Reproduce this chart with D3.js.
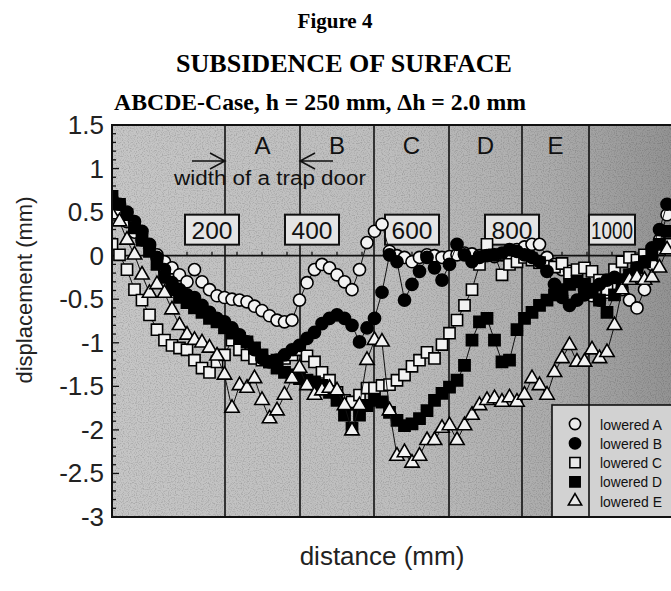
<!DOCTYPE html>
<html>
<head>
<meta charset="utf-8">
<script src="https://cdn.jsdelivr.net/npm/d3@7"></script>
<style>
  body { margin: 0; background: #fff; }
  svg { display: block; }
</style>
</head>
<body>
<div id="chart"></div>
<script>
// ---- data (distance in mm, displacement in mm) ----
const distance = [0, 15, 30, 45, 60, 75, 90, 105, 120, 135, 150, 165, 180, 195, 210, 225, 240, 255, 270, 285,
  300, 315, 330, 345, 360, 375, 390, 405, 420, 435, 450, 465, 480, 495, 510, 525, 540, 555, 570, 585,
  600, 615, 630, 645, 660, 675, 690, 705, 720, 735, 750, 765, 780, 795, 810, 825, 840, 855, 870, 885,
  900, 915, 930, 945, 960, 975, 990, 1005, 1020, 1035, 1050, 1065, 1080, 1095, 1110];

const loweredA = [0.65, 0.53, 0.39, 0.27, 0.18, 0.12, 0.01, -0.07, -0.14, -0.22,
  -0.30, -0.16, -0.30, -0.39, -0.46, -0.48, -0.50, -0.51, -0.53, -0.58,
  -0.63, -0.69, -0.74, -0.76, -0.74, -0.51, -0.31, -0.16, -0.10, -0.14,
  -0.22, -0.30, -0.39, -0.16, 0.15, 0.28, 0.36, 0.05, 0.00, -0.02,
  -0.07, -0.02, 0.01, 0.00, -0.02, -0.01, 0.01, 0.03, 0.02, 0.00,
  0.01, -0.01, 0.01, 0.03, 0.07, 0.10, 0.13, 0.13, -0.02, -0.10,
  -0.16, -0.18, -0.28, -0.39, -0.46, -0.51, -0.42, -0.37, -0.39, -0.51,
  -0.60, -0.39, -0.10, 0.18, 0.47];

const loweredB = [0.65, 0.59, 0.50, 0.39, 0.28, 0.13, -0.02, -0.16, -0.31, -0.39,
  -0.45, -0.48, -0.57, -0.65, -0.72, -0.76, -0.83, -0.91, -0.99, -1.08,
  -1.18, -1.22, -1.20, -1.14, -1.08, -1.03, -0.95, -0.88, -0.78, -0.72,
  -0.68, -0.72, -0.80, -0.99, -0.83, -0.72, -0.42, 0.01, -0.07, -0.51,
  -0.33, -0.18, -0.02, -0.14, -0.28, -0.10, 0.13, 0.01, -0.07, -0.02,
  0.00, 0.01, 0.03, 0.07, 0.05, 0.01, -0.02, -0.07, -0.18, -0.33,
  -0.48, -0.57, -0.51, -0.45, -0.39, -0.33, -0.28, -0.25, -0.28, -0.22,
  -0.14, -0.07, 0.09, 0.30, 0.59];

const loweredC = [0.13, 0.01, -0.16, -0.39, -0.51, -0.68, -0.85, -0.97, -1.03, -1.06,
  -1.08, -1.20, -1.29, -1.34, -1.22, -1.14, -0.97, -1.08, -1.14, -1.18,
  -1.20, -1.22, -1.20, -1.18, -1.14, -1.08, -1.15, -1.22, -1.34, -1.43,
  -1.57, -1.66, -1.68, -1.60, -1.52, -1.52, -1.49, -1.48, -1.43, -1.37,
  -1.27, -1.20, -1.11, -1.18, -1.02, -0.89, -0.74, -0.57, -0.39, -0.10,
  0.13, 0.01, -0.22, -0.10, -0.07, -0.02, -0.05, -0.08, -0.12, -0.13,
  -0.09, -0.20, -0.16, -0.14, -0.18, -0.28, -0.39, -0.16, -0.07, -0.02,
  -0.05, 0.01, 0.05, 0.07, 0.13];

const loweredD = [0.68, 0.59, 0.47, 0.32, 0.18, 0.05, -0.10, -0.25, -0.39, -0.48,
  -0.54, -0.60, -0.65, -0.72, -0.76, -0.83, -0.89, -0.95, -0.99, -1.06,
  -1.14, -1.22, -1.29, -1.34, -1.37, -1.41, -1.43, -1.45, -1.49, -1.57,
  -1.66, -1.83, -1.98, -1.83, -1.72, -1.66, -1.68, -1.80, -1.89, -1.95,
  -1.93, -1.87, -1.78, -1.66, -1.58, -1.51, -1.43, -1.26, -0.97, -0.76,
  -0.72, -0.97, -1.22, -1.20, -0.85, -0.72, -0.65, -0.57, -0.51, -0.45,
  -0.39, -0.33, -0.30, -0.33, -0.42, -0.51, -0.65, -0.45, -0.30, -0.22,
  -0.14, -0.07, 0.01, 0.13, 0.28];

const loweredE = [0.47, 0.39, 0.18, 0.01, -0.22, -0.43, -0.33, -0.43, -0.62, -0.80,
  -0.91, -0.97, -1.00, -1.06, -1.15, -1.37, -1.75, -1.49, -1.52, -1.41,
  -1.66, -1.87, -1.78, -1.60, -1.41, -1.29, -1.49, -1.60, -1.55, -1.52,
  -1.55, -1.72, -2.01, -1.72, -1.20, -0.97, -0.99, -1.78, -2.30, -2.26,
  -2.38, -2.30, -2.12, -2.12, -1.98, -1.95, -2.12, -1.95, -1.83, -1.72,
  -1.66, -1.64, -1.68, -1.63, -1.68, -1.60, -1.41, -1.49, -1.60, -1.34,
  -1.18, -1.03, -1.22, -1.22, -1.08, -1.18, -1.11, -0.80, -0.39, -0.28,
  -0.25, -0.28, -0.25, -0.14, 0.07];

const seriesNames = ['lowered A', 'lowered B', 'lowered C', 'lowered D', 'lowered E'];
const trapEdges = [226, 376, 524, 674, 820, 954];   // trap door borders (mm)
const trapNames = ['A', 'B', 'C', 'D', 'E'];
const xTickLabels = [200, 400, 600, 800, 1000];
const yTickLabels = [1.5, 1, 0.5, 0, -0.5, -1, -1.5, -2, -2.5, -3];

// ---- layout ----
const W = 671, H = 591;
const svg = d3.select('#chart').append('svg').attr('width', W).attr('height', H);

const x = d3.scaleLinear().domain([0, 1120]).range([112, 672]);
const y = d3.scaleLinear().domain([-3, 1.5]).range([517, 125]);

const defs = svg.append('defs');
const grad = defs.append('linearGradient').attr('id', 'bg').attr('x1', 0).attr('x2', 1).attr('y1', 0).attr('y2', 0);
[[0, '#c6c6c6'], [0.5, '#bebebe'], [0.78, '#acacac'], [1, '#939393']].forEach(([o, c]) =>
  grad.append('stop').attr('offset', o).attr('stop-color', c));

const noise = defs.append('filter').attr('id', 'grain').attr('x', 0).attr('y', 0).attr('width', 1).attr('height', 1);
noise.append('feTurbulence').attr('type', 'fractalNoise').attr('baseFrequency', 0.85).attr('numOctaves', 1).attr('seed', 3);
noise.append('feColorMatrix').attr('type', 'matrix')
  .attr('values', '0 0 0 0 0  0 0 0 0 0  0 0 0 0 0  0 0 0 -1.4 0.75');
noise.append('feComposite').attr('in2', 'SourceGraphic').attr('operator', 'in');

defs.append('clipPath').attr('id', 'plotClip').append('rect')
  .attr('x', x(0)).attr('y', y(1.5)).attr('width', x(1120) - x(0)).attr('height', y(-3) - y(1.5));

// ---- titles ----
const serif = "'Liberation Serif', 'Times New Roman', serif";
const sans = "'Liberation Sans', Arial, sans-serif";
svg.append('text').attr('x', 335).attr('y', 28).attr('text-anchor', 'middle')
  .attr('font-family', serif).attr('font-weight', 'bold').attr('font-size', 21).text('Figure 4');
svg.append('text').attr('x', 344).attr('y', 72).attr('text-anchor', 'middle')
  .attr('font-family', serif).attr('font-weight', 'bold').attr('font-size', 25)
  .attr('textLength', 336).attr('lengthAdjust', 'spacingAndGlyphs').text('SUBSIDENCE OF SURFACE');
svg.append('text').attr('x', 320).attr('y', 110).attr('text-anchor', 'middle')
  .attr('font-family', serif).attr('font-weight', 'bold').attr('font-size', 23)
  .attr('textLength', 412).attr('lengthAdjust', 'spacingAndGlyphs')
  .text('ABCDE-Case, h = 250 mm, \u0394h = 2.0 mm');

// ---- plot background ----
const plot = svg.append('g');
plot.append('rect').attr('x', x(0)).attr('y', y(1.5)).attr('width', x(1120) - x(0)).attr('height', y(-3) - y(1.5))
  .attr('fill', 'url(#bg)');
plot.append('rect').attr('x', x(0)).attr('y', y(1.5)).attr('width', x(1120) - x(0)).attr('height', y(-3) - y(1.5))
  .attr('fill', '#000').attr('filter', 'url(#grain)').attr('opacity', 0.35);

// trap door borders
plot.selectAll('.trap').data(trapEdges).enter().append('line')
  .attr('x1', d => x(d)).attr('x2', d => x(d)).attr('y1', y(1.5)).attr('y2', y(-3))
  .attr('stroke', '#111').attr('stroke-width', 1.6);

// zero line + its small ticks
plot.append('line').attr('x1', x(0)).attr('x2', x(1120)).attr('y1', y(0)).attr('y2', y(0))
  .attr('stroke', '#111').attr('stroke-width', 1.6);
plot.selectAll('.xt').data(d3.range(50, 1120, 50)).enter().append('line')
  .attr('x1', d => x(d)).attr('x2', d => x(d)).attr('y1', y(0)).attr('y2', y(0) - 4)
  .attr('stroke', '#111').attr('stroke-width', 1.3);

// y ticks inside left frame
const yMinor = y.ticks(45);
plot.selectAll('.yt').data(yMinor).enter().append('line')
  .attr('x1', x(0)).attr('x2', d => x(0) + (Math.abs(d * 2 - Math.round(d * 2)) < 1e-6 ? 7 : 4))
  .attr('y1', d => y(d)).attr('y2', d => y(d))
  .attr('stroke', '#111').attr('stroke-width', 1.3);

// trap door letters
plot.selectAll('.trapName').data(trapNames).enter().append('text')
  .attr('x', (d, i) => x((trapEdges[i] + trapEdges[i + 1]) / 2))
  .attr('y', 154).attr('text-anchor', 'middle')
  .attr('font-family', sans).attr('font-size', 24).attr('fill', '#111').text(d => d);

// "width of a trap door" with arrows
plot.append('text').attr('x', 174).attr('y', 185)
  .attr('font-family', sans).attr('font-size', 20).attr('fill', '#111')
  .attr('textLength', 192).attr('lengthAdjust', 'spacingAndGlyphs').text('width of a trap door');
function arrow(tipX, dir) {
  const ay = 161;
  plot.append('path')
    .attr('d', `M${tipX - dir * 33},${ay}L${tipX},${ay}M${tipX - dir * 15},${ay - 8}L${tipX},${ay}L${tipX - dir * 15},${ay + 8}`)
    .attr('fill', 'none').attr('stroke', '#111').attr('stroke-width', 1.5);
}
arrow(x(trapEdges[0]), 1);
arrow(x(trapEdges[1]), -1);

// tick label boxes along the zero line
const boxes = plot.selectAll('.lbl').data(xTickLabels).enter().append('g')
  .attr('transform', d => `translate(${x(d)},${y(0) - 26})`);
boxes.append('rect').attr('x', d => d >= 1000 ? -23 : -27).attr('y', -15)
  .attr('width', d => d >= 1000 ? 46 : 54).attr('height', 30)
  .attr('fill', '#e4e4e4').attr('stroke', '#111').attr('stroke-width', 2);
boxes.append('text').attr('text-anchor', 'middle').attr('y', 9)
  .attr('font-family', sans).attr('font-size', 24).attr('fill', '#111')
  .attr('textLength', d => d >= 1000 ? 42 : 41).attr('lengthAdjust', 'spacingAndGlyphs')
  .text(d => d);

// ---- series ----
const symbols = [
  { type: d3.symbolCircle, size: 115, fill: '#f2f2f2' },
  { type: d3.symbolCircle, size: 115, fill: '#000' },
  { type: d3.symbolSquare, size: 125, fill: '#f2f2f2' },
  { type: d3.symbolSquare, size: 125, fill: '#000' },
  { type: d3.symbolTriangle, size: 90, fill: '#f2f2f2' }
];
const allSeries = [loweredA, loweredB, loweredC, loweredD, loweredE];
const drawOrder = [0, 2, 1, 3, 4];

const marks = svg.append('g').attr('clip-path', 'url(#plotClip)');
const line = d3.line().x((d, i) => x(distance[i])).y(d => y(d));
drawOrder.forEach(k => {
  const g = marks.append('g');
  g.append('path').datum(allSeries[k]).attr('d', line)
    .attr('fill', 'none').attr('stroke', '#111').attr('stroke-width', 1);
  const sym = d3.symbol().type(symbols[k].type).size(symbols[k].size);
  g.selectAll('path.pt').data(allSeries[k]).enter().append('path').attr('class', 'pt')
    .attr('transform', (d, i) => `translate(${x(distance[i])},${y(d)})`)
    .attr('d', sym).attr('fill', symbols[k].fill).attr('stroke', '#000').attr('stroke-width', 1.6);
});

// ---- legend ----
const lg = svg.append('g');
lg.append('rect').attr('x', 552).attr('y', 405).attr('width', 130).attr('height', y(-3) - 405)
  .attr('fill', '#d2d2d2').attr('stroke', '#111').attr('stroke-width', 1.6);
lg.append('line').attr('x1', x(trapEdges[5])).attr('x2', x(trapEdges[5])).attr('y1', 405).attr('y2', y(-3))
  .attr('stroke', '#111').attr('stroke-width', 1.6);
seriesNames.forEach((name, k) => {
  const ly = 424 + k * 19.3;
  lg.append('path').attr('transform', `translate(575,${ly})`)
    .attr('d', d3.symbol().type(symbols[k].type).size(symbols[k].size * 0.85))
    .attr('fill', symbols[k].fill === '#000' ? '#000' : '#e8e8e8').attr('stroke', '#000').attr('stroke-width', 1.6);
  lg.append('text').attr('x', 600).attr('y', ly + 5.5)
    .attr('font-family', sans).attr('font-size', 15).attr('fill', '#111')
    .attr('textLength', 62).attr('lengthAdjust', 'spacingAndGlyphs').text(name);
});

// ---- frame ----
svg.append('rect').attr('x', x(0)).attr('y', y(1.5)).attr('width', x(1120) - x(0) + 4).attr('height', y(-3) - y(1.5))
  .attr('fill', 'none').attr('stroke', '#111').attr('stroke-width', 2);

// ---- axis labels ----
svg.selectAll('.ylab').data(yTickLabels).enter().append('text')
  .attr('x', 104).attr('y', d => y(d) + 9).attr('text-anchor', 'end')
  .attr('font-family', sans).attr('font-size', 26).attr('fill', '#222')
  .text(d => String(d));

svg.append('text').attr('transform', 'translate(32,290) rotate(-90)').attr('text-anchor', 'middle')
  .attr('font-family', sans).attr('font-size', 22).attr('fill', '#222').text('displacement (mm)');

svg.append('text').attr('x', 382).attr('y', 565).attr('text-anchor', 'middle')
  .attr('font-family', sans).attr('font-size', 26).attr('fill', '#222').text('distance (mm)');
</script>
</body>
</html>
